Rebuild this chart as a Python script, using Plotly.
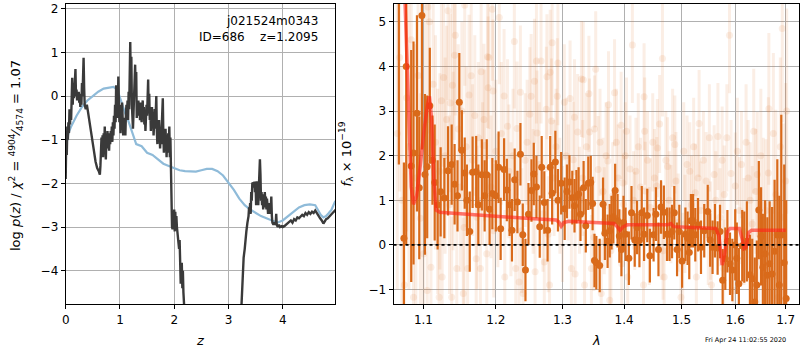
import plotly.graph_objects as go

# ---------------- left panel: redshift probability ----------------
z_pz = [0.00, 0.01, 0.02, 0.03, 0.04, 0.05, 0.06, 0.07, 0.08, 0.09, 0.10, 0.11, 0.12, 0.13, 0.14,
        0.15, 0.16, 0.17, 0.18, 0.19, 0.20, 0.21, 0.22, 0.23, 0.24, 0.25, 0.26, 0.27, 0.28, 0.29,
        0.30, 0.31, 0.32, 0.33, 0.34, 0.35, 0.37, 0.39, 0.41, 0.43, 0.46, 0.49, 0.52, 0.55, 0.58,
        0.61, 0.63, 0.64, 0.65, 0.66, 0.67, 0.68, 0.69, 0.70, 0.71, 0.72, 0.73, 0.74, 0.75, 0.76,
        0.77, 0.78, 0.79, 0.80, 0.81, 0.82, 0.83, 0.84, 0.85, 0.86, 0.87, 0.88, 0.89, 0.90, 0.91,
        0.92, 0.93, 0.94, 0.95, 0.96, 0.97, 0.98, 0.99, 1.00, 1.01, 1.02, 1.03, 1.04, 1.05, 1.06,
        1.07, 1.08, 1.09, 1.10, 1.11, 1.12, 1.13, 1.14, 1.15, 1.16, 1.17, 1.18, 1.19, 1.20, 1.21,
        1.22, 1.23, 1.24, 1.25, 1.26, 1.27, 1.28, 1.29, 1.30, 1.31, 1.32, 1.33, 1.34, 1.35, 1.36,
        1.37, 1.38, 1.39, 1.40, 1.41, 1.42, 1.43, 1.44, 1.45, 1.46, 1.47, 1.48, 1.49, 1.50, 1.51,
        1.52, 1.53, 1.54, 1.55, 1.56, 1.57, 1.58, 1.59, 1.60, 1.61, 1.62, 1.63, 1.64, 1.65, 1.66,
        1.67, 1.68, 1.69, 1.70, 1.71, 1.72, 1.73, 1.74, 1.75, 1.76, 1.77, 1.78, 1.79, 1.80, 1.81,
        1.82, 1.83, 1.84, 1.85, 1.86, 1.87, 1.88, 1.89, 1.90, 1.91, 1.92, 1.93, 1.94, 1.95, 1.96,
        1.97, 1.98, 1.99, 2.00, 2.01, 2.02, 2.03, 2.04, 2.05, 2.07, 2.09, 2.10, 2.11, 2.12, 2.13,
        2.14, 2.15, 2.16, 2.17, 2.18, 2.20, 2.22, 2.50, 3.00, 3.22, 3.24, 3.25, 3.26, 3.27, 3.28,
        3.30, 3.31, 3.33, 3.35, 3.37, 3.38, 3.39, 3.40, 3.41, 3.42, 3.43, 3.44, 3.45, 3.46, 3.47,
        3.48, 3.49, 3.50, 3.51, 3.52, 3.53, 3.54, 3.55, 3.56, 3.57, 3.58, 3.59, 3.60, 3.61, 3.62,
        3.63, 3.64, 3.65, 3.66, 3.67, 3.68, 3.69, 3.70, 3.71, 3.72, 3.73, 3.74, 3.75, 3.76, 3.77,
        3.78, 3.79, 3.80, 3.81, 3.83, 3.85, 3.87, 3.88, 3.89, 3.91, 3.93, 3.95, 3.98, 4.00, 4.03,
        4.06, 4.09, 4.12, 4.15, 4.18, 4.21, 4.24, 4.27, 4.30, 4.33, 4.36, 4.39, 4.42, 4.45, 4.48,
        4.51, 4.54, 4.57, 4.60, 4.63, 4.66, 4.69, 4.72, 4.75, 4.77, 4.80, 4.83, 4.86, 4.89, 4.92,
        4.95, 4.98]
log_pz = [-1.90, -1.00, -1.35, -0.70, -1.00, -0.60, -0.85, -0.30, -0.65, -0.35, -0.55, -0.10, 0.42, -0.20, 0.30,
          -0.05, 0.10, 0.35, 0.62, 0.00, 0.15, -0.10, 0.05, -0.05, 0.10, -0.15, -0.05, -0.25, 0.05, -0.20,
          0.30, 0.00, 0.60, 0.88, 0.20, -0.20, -0.30, -0.20, -0.35, -0.50, -0.75, -0.95, -1.25, -1.50, -1.65,
          -1.72, -1.80, -1.60, -1.40, -0.95, -1.30, -0.90, -1.40, -0.85, -1.20, -0.70, -1.15, -1.45, -0.95, -1.20,
          -0.80, -1.10, -0.90, -1.25, -0.85, -1.10, -0.80, -1.00, -0.70, -1.05, -0.60, -0.90, -0.45, -0.75, -0.20,
          -0.60, 0.25, -0.40, 0.05, -0.50, 0.45, -0.10, -0.60, -0.20, -0.85, -0.30, -0.60, -0.15, -0.70, -0.90,
          -0.50, -0.85, -0.60, -0.90, -0.40, -0.20, -0.45, -0.10, -0.55, 0.10, -0.30, 0.55, 1.24, 0.20, 0.90,
          -0.20, -0.45, -0.75, -0.40, -0.10, 0.30, 0.72, 0.10, 0.55, -0.50, -0.20, -0.40, -0.10, -0.45, -0.25,
          -0.55, -0.15, -0.45, -0.60, -0.30, -0.10, -0.50, -0.25, -0.65, -0.40, -0.80, -0.50, -0.20, -0.45, 0.10,
          0.38, -0.40, 0.05, -0.55, -0.30, -0.80, -0.50, -0.25, -0.70, -0.40, -0.90, -0.60, -0.30, -0.75, -0.45,
          0.00, -0.80, -1.10, -0.65, -0.90, -0.55, -1.00, -1.20, -0.85, -1.10, -0.70, -0.35, -0.05, -0.90, -1.30,
          -0.95, -1.20, -0.75, -1.10, -1.40, -0.90, -1.30, -0.85, -1.20, -0.70, -1.40, -0.95, -1.80, -2.50, -3.00,
          -3.05, -2.70, -3.05, -2.60, -3.10, -2.65, -3.05, -2.75, -3.00, -3.20, -3.50, -3.30, -3.90, -4.30, -4.10,
          -3.82, -4.40, -4.00, -4.50, -4.80, -5.60, -6.50, -12.0, -12.0, -6.00, -4.80, -4.50, -4.10, -3.90, -3.70,
          -3.50, -3.30, -3.10, -2.90, -2.75, -2.55, -2.65, -2.45, -2.70, -2.20, -2.40, -1.98, -2.10, -1.97, -2.05,
          -1.96, -2.20, -2.00, -2.50, -1.95, -2.40, -2.00, -2.50, -2.10, -1.90, -1.45, -1.80, -2.40, -2.20, -2.50,
          -2.25, -2.60, -2.30, -2.55, -2.20, -2.45, -2.30, -2.60, -2.35, -2.50, -2.70, -2.45, -2.60, -2.45, -2.70,
          -2.55, -2.30, -2.75, -2.90, -2.95, -2.90, -2.95, -2.70, -2.95, -3.00, -2.95, -3.00, -2.98, -3.00, -2.98,
          -2.95, -2.92, -2.90, -2.85, -2.90, -2.82, -2.85, -2.78, -2.80, -2.75, -2.72, -2.75, -2.68, -2.72, -2.66,
          -2.70, -2.65, -2.68, -2.62, -2.68, -2.75, -2.80, -2.85, -2.92, -2.88, -2.82, -2.80, -2.75, -2.72, -2.68,
          -2.65, -2.60]

z_prior = [0.00, 0.05, 0.10, 0.20, 0.30, 0.40, 0.50, 0.60, 0.70, 0.80, 0.88, 0.95, 1.00, 1.05, 1.10,
           1.15, 1.20, 1.25, 1.30, 1.40, 1.50, 1.60, 1.70, 1.80, 1.90, 2.00, 2.10, 2.20, 2.30, 2.40,
           2.50, 2.60, 2.70, 2.80, 2.90, 3.00, 3.10, 3.20, 3.30, 3.40, 3.50, 3.60, 3.70, 3.80, 3.90,
           4.00, 4.10, 4.20, 4.30, 4.40, 4.50, 4.60, 4.65, 4.70, 4.75, 4.80, 4.85, 4.90, 4.97]
log_prior = [-1.20, -0.85, -0.70, -0.45, -0.25, -0.10, 0.00, 0.10, 0.17, 0.20, 0.21, 0.15, -0.05, -0.25, -0.40,
             -0.55, -0.75, -0.95, -1.10, -1.15, -1.30, -1.35, -1.45, -1.55, -1.60, -1.65, -1.70, -1.72, -1.72, -1.73,
             -1.70, -1.67, -1.67, -1.72, -1.82, -1.98, -2.15, -2.35, -2.50, -2.60, -2.68, -2.75, -2.80, -2.85, -2.90,
             -2.85, -2.75, -2.65, -2.55, -2.50, -2.48, -2.50, -2.60, -2.72, -2.78, -2.75, -2.68, -2.60, -2.40]

z_ticks = [0, 1, 2, 3, 4]
pz_ticks = [-4, -3, -2, -1, 0, 1, 2]

# ---------------- right panel: spectrum ----------------
# main spectrum: wavelength [micron], flux, uncertainty
lam_main = [1.068, 1.0745, 1.0775, 1.084, 1.087, 1.0915, 1.0945, 1.098, 1.102, 1.105, 1.1085, 1.112, 1.115, 1.119,
            1.123, 1.128, 1.133, 1.138, 1.142, 1.146, 1.1485, 1.152, 1.156, 1.159, 1.163, 1.167, 1.172, 1.175,
            1.180, 1.184, 1.187, 1.191, 1.195, 1.200, 1.204, 1.207, 1.212, 1.216, 1.220, 1.2235, 1.2275, 1.2315,
            1.236, 1.2395, 1.2435, 1.248, 1.2525, 1.256, 1.260, 1.265, 1.268, 1.272, 1.277, 1.281, 1.284, 1.289,
            1.293, 1.298, 1.3035, 1.307, 1.311, 1.3155, 1.319, 1.322, 1.3255, 1.3285, 1.3335, 1.337, 1.341, 1.345,
            1.348, 1.351, 1.354, 1.3595, 1.365, 1.368, 1.3725, 1.376, 1.379, 1.382, 1.385, 1.389, 1.392, 1.3955,
            1.399, 1.4025, 1.408, 1.4125, 1.418, 1.422, 1.426, 1.430, 1.434, 1.4395, 1.444, 1.4505, 1.4545, 1.459,
            1.4635, 1.4685, 1.474, 1.4785, 1.483, 1.487, 1.492, 1.496, 1.501, 1.507, 1.511, 1.514, 1.517, 1.521,
            1.525, 1.530, 1.5355, 1.5415, 1.548, 1.5525, 1.557, 1.5615, 1.5665, 1.571, 1.576, 1.581, 1.585, 1.590,
            1.5945, 1.600, 1.603, 1.607, 1.6135, 1.6175, 1.6225, 1.6285, 1.633, 1.638, 1.642, 1.646, 1.6505, 1.654,
            1.6585, 1.663, 1.6675, 1.6725, 1.6775, 1.683, 1.687, 1.691, 1.697, 1.701]
flux_main = [6.3, 0.15, 4.0, 1.77, 2.06, 2.95, 1.28, 5.14, 1.58, 1.75, 3.12, 1.90, 1.40, 0.90,
             1.19, 1.05, 1.66, 1.80, 1.36, 1.10, 3.20, 2.12, 1.61, 1.00, 0.30, 1.63, 1.64, 0.90,
             1.57, 1.10, 1.57, 0.80, 1.15, 1.10, 1.74, 0.36, 1.69, 1.23, 0.90, 0.33, 1.46, 0.96,
             2.03, 0.23, -0.56, 0.69, 1.22, 1.59, 1.30, 0.41, 1.74, 0.95, 0.33, 1.74, 1.16, 1.86,
             1.00, 1.38, 0.81, 1.20, 1.41, 1.06, 0.88, 1.08, 1.14, 0.69, 1.28, 0.43, 1.38, 1.40,
             0.93, -0.35, -0.40, -0.46, 0.91, 0.26, 0.08, 0.32, 0.50, 0.63, 1.22, 0.54, 0.20, -0.10,
             0.50, 0.24, -0.30, 0.72, 0.11, 0.39, 0.10, 0.72, 0.24, 0.66, -0.24, 0.23, 0.69, -0.10,
             0.85, 0.73, 0.24, 0.24, 0.30, 0.72, -0.10, 0.30, -0.36, 0.24, 0.15, -0.17, 0.54, 0.54,
             0.23, 0.45, -0.05, 0.32, 0.75, 0.11, -0.05, 0.32, -0.07, 0.30, -0.79, -0.31, 0.08, -0.42,
             -0.56, 0.00, -0.30, -0.87, -0.02, -0.05, 0.08, -0.67, -0.76, -1.28, -0.90, 0.78, 0.19, -0.50,
             -0.20, -0.68, -0.42, -0.65, -0.14, 0.22, -0.90, 0.22, -0.40, -1.20]
err_main = [4.5, 1.7, 4.0, 2.6, 2.5, 2.2, 1.6, 3.0, 1.8, 1.6, 1.3, 1.0, 1.3, 1.0,
            1.0, 0.9, 1.0, 0.9, 0.9, 0.8, 1.1, 0.9, 0.8, 0.8, 0.9, 0.8, 0.8, 0.9,
            0.8, 0.8, 0.8, 0.8, 0.8, 0.8, 0.8, 0.7, 0.7, 0.7, 0.7, 0.7, 0.7, 0.7,
            0.7, 0.7, 0.7, 0.7, 0.7, 0.7, 0.7, 0.7, 0.7, 0.7, 0.7, 0.7, 0.7, 0.7,
            0.7, 0.7, 0.7, 0.6, 0.6, 0.6, 0.6, 0.6, 0.6, 0.6, 0.6, 0.6, 0.6, 0.6,
            0.6, 0.6, 0.6, 0.6, 0.6, 0.6, 0.6, 0.6, 0.6, 0.6, 0.6, 0.6, 0.6, 0.6,
            0.6, 0.6, 0.6, 0.6, 0.6, 0.6, 0.6, 0.6, 0.6, 0.6, 0.6, 0.6, 0.6, 0.6,
            0.6, 0.6, 0.6, 0.6, 0.6, 0.6, 0.6, 0.6, 0.6, 0.6, 0.6, 0.6, 0.6, 0.6,
            0.6, 0.6, 0.6, 0.6, 0.6, 0.6, 0.6, 0.6, 0.6, 0.6, 0.7, 0.7, 0.7, 0.7,
            0.7, 0.8, 0.8, 0.8, 0.8, 0.8, 0.9, 0.9, 0.9, 1.0, 1.0, 1.1, 1.1, 1.2,
            1.2, 1.3, 1.4, 1.5, 1.6, 1.7, 2.0, 2.7, 2.2, 2.2]

# other exposures, drawn faintly behind
lam_other = [1.066, 1.069, 1.072, 1.075, 1.078, 1.081, 1.084, 1.087, 1.090, 1.093, 1.096, 1.100, 1.102, 1.105,
             1.106, 1.108, 1.110, 1.113, 1.116, 1.119, 1.121, 1.122, 1.124, 1.125, 1.127, 1.129, 1.131, 1.133,
             1.135, 1.136, 1.138, 1.139, 1.140, 1.142, 1.143, 1.145, 1.147, 1.150, 1.152, 1.154, 1.155, 1.156,
             1.158, 1.160, 1.162, 1.165, 1.167, 1.170, 1.172, 1.173, 1.175, 1.178, 1.179, 1.181, 1.183, 1.184,
             1.187, 1.188, 1.189, 1.190, 1.193, 1.195, 1.196, 1.197, 1.200, 1.203, 1.205, 1.208, 1.212, 1.213,
             1.217, 1.219, 1.222, 1.225, 1.227, 1.229, 1.231, 1.234, 1.236, 1.238, 1.240, 1.243, 1.246, 1.250,
             1.252, 1.255, 1.257, 1.258, 1.260, 1.261, 1.264, 1.267, 1.270, 1.272, 1.275, 1.276, 1.278, 1.280,
             1.281, 1.283, 1.284, 1.287, 1.290, 1.292, 1.293, 1.296, 1.300, 1.303, 1.306, 1.309, 1.312, 1.314,
             1.317, 1.319, 1.320, 1.324, 1.327, 1.330, 1.332, 1.333, 1.335, 1.338, 1.342, 1.343, 1.346, 1.350,
             1.351, 1.353, 1.357, 1.360, 1.362, 1.365, 1.367, 1.370, 1.373, 1.374, 1.376, 1.378, 1.381, 1.384,
             1.387, 1.390, 1.395, 1.396, 1.398, 1.399, 1.402, 1.404, 1.406, 1.410, 1.414, 1.416, 1.418, 1.420,
             1.424, 1.428, 1.433, 1.434, 1.435, 1.436, 1.440, 1.443, 1.445, 1.449, 1.452, 1.456, 1.457, 1.461,
             1.464, 1.466, 1.467, 1.469, 1.472, 1.475, 1.478, 1.481, 1.484, 1.488, 1.490, 1.494, 1.499, 1.502,
             1.504, 1.506, 1.510, 1.515, 1.518, 1.522, 1.525, 1.527, 1.530, 1.532, 1.535, 1.540, 1.545, 1.549,
             1.551, 1.553, 1.555, 1.560, 1.563, 1.567, 1.571, 1.575, 1.578, 1.579, 1.584, 1.589, 1.592, 1.597,
             1.600, 1.604, 1.608, 1.612, 1.617, 1.621, 1.625, 1.629, 1.633, 1.634, 1.636, 1.640, 1.643, 1.646,
             1.650, 1.655, 1.660, 1.665, 1.666, 1.671, 1.675, 1.680, 1.685, 1.689, 1.693, 1.695, 1.700, 1.702]
flux_other = [2.5, 4.2, 1.0, -0.9, 3.3, 2.2, 4.6, -1.17, 1.5, 3.8, 0.6, -0.2, 2.9, -1.02,
              5.33, 5.0, -0.5, 3.6, 2.3, 1.2, -1.17, 1.65, 3.23, -0.72, 3.75, 2.0, 2.81, 5.25,
              0.9, 3.18, -1.17, 3.58, 1.88, 4.25, 4.7, -0.53, 2.6, 1.3, 3.0, -1.09, 0.39, 5.37,
              2.2, -0.53, 3.36, 3.79, 1.9, 2.9, -0.31, 0.62, 2.4, -0.53, 3.88, 1.6, 2.81, 2.23,
              -0.2, 4.22, 3.52, 4.2, 1.3, 5.28, 3.45, 0.32, 2.1, 1.0, 5.1, 2.5, 3.34, -0.72,
              2.66, 1.65, 0.8, 2.0, 4.56, -0.53, 2.61, -0.83, 3.42, 0.32, -1.09, 1.9, 2.3, 2.93,
              3.33, 1.2, 3.67, -0.6, 4.12, 2.51, 1.8, 4.12, 0.7, -0.38, 3.04, 3.77, 0.24, -0.9,
              3.87, 2.78, 4.53, 1.5, 2.2, 3.33, 4.08, 1.1, 0.47, 3.2, 2.0, 1.4, 3.28, -0.53,
              1.91, 2.86, -0.65, 2.53, 1.0, 3.72, 1.5, 3.70, -0.9, 2.2, 3.39, 2.53, -0.53, 0.17,
              2.6, 3.94, 1.69, 2.3, -1.09, 1.2, 0.54, 2.0, 1.88, 3.14, -1.24, -0.13, 1.1, 3.41,
              2.3, 1.5, 2.68, -0.42, 1.39, 0.91, 2.0, 2.55, -0.72, 1.7, 4.48, 1.0, 0.54, 1.65,
              2.2, 1.3, -0.9, 3.32, 2.55, 1.21, 1.9, 0.2, 0.84, 2.3, 1.5, 1.32, 2.17, 2.71,
              0.32, 4.18, -0.13, -0.72, 1.9, 1.76, 1.0, 0.69, 2.4, 2.25, 1.43, 0.5, -1.17, -0.38,
              2.1, 0.47, 1.8, 1.65, 0.9, 2.2, 1.17, -0.72, 1.5, 2.72, 0.77, 1.9, 1.43, 0.2,
              2.4, 0.32, -0.9, 1.58, 1.0, 2.43, 0.62, 1.9, -0.53, 1.13, 2.4, 4.7, 1.6, -1.02,
              1.32, 2.1, 0.77, 1.8, 0.3, 2.3, 1.5, 1.0, 0.47, -0.72, 2.55, 1.2, 1.58, -0.38,
              2.0, 0.9, 0.77, 1.61, 3.05, -0.72, 2.5, 1.13, -1.17, 2.2, 4.85, 0.62, 1.43, 3.0]
err_other = [3.5, 3.0, 3.0, 2.5, 3.0, 3.2, 2.8, 2.4, 3.0, 2.6, 2.8, 2.5, 2.6, 2.0,
             2.6, 2.5, 2.2, 2.3, 2.4, 2.3, 2.0, 2.2, 2.2, 2.0, 2.0, 2.2, 2.1, 2.0,
             2.0, 2.0, 1.8, 1.9, 2.0, 1.9, 1.8, 1.8, 1.9, 1.9, 2.0, 1.7, 1.8, 1.8,
             1.8, 1.7, 1.8, 1.8, 1.7, 1.8, 1.6, 1.6, 1.7, 1.6, 1.7, 1.6, 1.7, 1.7,
             1.6, 1.6, 1.6, 1.6, 1.6, 1.6, 1.6, 1.5, 1.6, 1.5, 1.5, 1.6, 1.5, 1.5,
             1.5, 1.5, 1.5, 1.5, 1.5, 1.4, 1.5, 1.4, 1.5, 1.4, 1.4, 1.5, 1.4, 1.5,
             1.4, 1.4, 1.4, 1.4, 1.4, 1.4, 1.4, 1.4, 1.3, 1.3, 1.4, 1.4, 1.3, 1.3,
             1.4, 1.4, 1.4, 1.3, 1.3, 1.3, 1.4, 1.3, 1.3, 1.3, 1.3, 1.3, 1.3, 1.3,
             1.3, 1.3, 1.3, 1.3, 1.2, 1.3, 1.3, 1.3, 1.2, 1.2, 1.3, 1.2, 1.2, 1.2,
             1.2, 1.3, 1.2, 1.2, 1.2, 1.2, 1.2, 1.2, 1.2, 1.2, 1.1, 1.2, 1.2, 1.2,
             1.2, 1.2, 1.2, 1.2, 1.2, 1.1, 1.2, 1.2, 1.2, 1.2, 1.3, 1.1, 1.1, 1.2,
             1.2, 1.1, 1.1, 1.2, 1.2, 1.1, 1.1, 1.1, 1.1, 1.1, 1.1, 1.1, 1.1, 1.1,
             1.1, 1.3, 1.1, 1.1, 1.1, 1.1, 1.1, 1.1, 1.1, 1.1, 1.1, 1.1, 1.1, 1.1,
             1.1, 1.1, 1.1, 1.1, 1.1, 1.1, 1.1, 1.1, 1.1, 1.2, 1.1, 1.1, 1.1, 1.1,
             1.2, 1.1, 1.1, 1.1, 1.1, 1.2, 1.1, 1.2, 1.1, 1.1, 1.2, 1.3, 1.2, 1.1,
             1.2, 1.2, 1.2, 1.2, 1.2, 1.3, 1.3, 1.3, 1.3, 1.3, 1.4, 1.4, 1.4, 1.4,
             1.5, 1.5, 1.6, 1.7, 1.7, 1.7, 1.8, 1.9, 1.9, 2.0, 2.1, 2.1, 2.2, 2.3]

# best-fit model spectrum
lam_model = [1.072, 1.076, 1.080, 1.084, 1.087, 1.091, 1.096, 1.101, 1.106, 1.108, 1.111, 1.114, 1.117, 1.122,
             1.150, 1.200, 1.250, 1.290, 1.294, 1.298, 1.302, 1.310, 1.350, 1.383, 1.389, 1.393, 1.398, 1.405,
             1.450, 1.475, 1.481, 1.486, 1.520, 1.563, 1.569, 1.575, 1.580, 1.585, 1.590, 1.608, 1.613, 1.617,
             1.621, 1.626, 1.632, 1.700]
flux_model = [7.5, 5.5, 3.0, 1.3, 0.91, 1.1, 1.8, 2.6, 3.2, 3.33, 2.8, 1.4, 0.78, 0.73,
              0.70, 0.64, 0.59, 0.56, 0.52, 0.42, 0.50, 0.53, 0.51, 0.48, 0.40, 0.33, 0.40, 0.45,
              0.45, 0.45, 0.48, 0.41, 0.39, 0.37, 0.20, -0.45, -0.20, 0.30, 0.37, 0.37, 0.15, -0.08,
              -0.05, 0.28, 0.33, 0.33]

lam_ticks = [1.1, 1.2, 1.3, 1.4, 1.5, 1.6, 1.7]
flux_ticks = [-1, 0, 1, 2, 3, 4, 5]

W, H = 800, 350
FONT = "DejaVu Sans"
GRID = "#b0b0b0"
ORANGE = "rgb(217,106,26)"
ORANGE_FAINT = "rgba(225,115,40,0.12)"


def fmt(v):
    s = f"{v:g}"
    return s.replace("-", "\u2212")


def px2paper(x, y):
    return x / W, 1 - y / H


fig = go.Figure()

# p(z) curves
fig.add_trace(go.Scatter(x=z_prior, y=log_prior, mode="lines", xaxis="x", yaxis="y",
                         line=dict(color="#8fbbd9", width=2.2), showlegend=False))
fig.add_trace(go.Scatter(x=z_pz, y=log_pz, mode="lines", xaxis="x", yaxis="y",
                         line=dict(color="#3a3a3a", width=2.4), showlegend=False))

# spectra
fig.add_trace(go.Scatter(x=lam_other, y=flux_other, mode="markers", xaxis="x2", yaxis="y2",
                         marker=dict(color=ORANGE_FAINT, size=7, line=dict(width=0)),
                         error_y=dict(type="data", array=err_other, color=ORANGE_FAINT,
                                      thickness=3, width=0),
                         showlegend=False))
fig.add_trace(go.Scatter(x=lam_main, y=flux_main, mode="markers", xaxis="x2", yaxis="y2",
                         marker=dict(color=ORANGE, size=7, line=dict(width=0)),
                         error_y=dict(type="data", array=err_main, color=ORANGE,
                                      thickness=2.2, width=0),
                         showlegend=False))
fig.add_trace(go.Scatter(x=lam_model, y=flux_model, mode="lines", xaxis="x2", yaxis="y2",
                         line=dict(color="rgba(255,35,25,0.62)", width=3.5), showlegend=False))

axis_common = dict(showgrid=True, gridcolor=GRID, gridwidth=1, showline=True, linecolor="black",
                   linewidth=1, mirror=True, ticks="outside", ticklen=4, tickcolor="black",
                   zeroline=False, tickfont=dict(family=FONT, size=12, color="black"))

fig.update_layout(
    width=W, height=H,
    margin=dict(l=0, r=0, t=0, b=0),
    paper_bgcolor="white", plot_bgcolor="white",
    xaxis=dict(domain=[62 / W, 333 / W], range=[0, 4.97], tickvals=z_ticks,
               ticktext=[fmt(v) for v in z_ticks], anchor="y", **axis_common),
    yaxis=dict(domain=[1 - 304 / H, 1 - 2 / H], range=[-4.77, 2.11], tickvals=pz_ticks,
               ticktext=[fmt(v) for v in pz_ticks], anchor="x", **axis_common),
    xaxis2=dict(domain=[391.5 / W, 799 / W], type="log", range=[0.0258, 0.2374], tickvals=lam_ticks,
                ticktext=[fmt(v) for v in lam_ticks], anchor="y2", **axis_common),
    yaxis2=dict(domain=[1 - 304 / H, 1 - 2 / H], range=[-1.33, 5.4], tickvals=flux_ticks,
                ticktext=[fmt(v) for v in flux_ticks], anchor="x2", **axis_common),
)

# zero level in the spectrum panel
fig.add_shape(type="line", xref="x2 domain", yref="y2", x0=0, x1=1, y0=0, y1=0,
              line=dict(color="black", width=1.8, dash="dot"))

annots = [
    dict(px=318, py=10, text="j021524m0343<br>ID=686\u00a0\u00a0\u00a0\u00a0z=1.2095", size=12,
         xanchor="right", yanchor="top", align="right"),
    dict(px=12, py=154, text="log <i>p</i>(<i>z</i>) / <i>χ</i><sup>2</sup> = "
                              "<sup>4904</sup>⁄<sub>4574</sub> = 1.07",
         size=13, angle=-90),
    dict(px=344, py=153, text="<i>f</i><sub>λ</sub> × 10<sup>−19</sup>", size=13, angle=-90),
    dict(px=197, py=340, text="<i>z</i>", size=13),
    dict(px=595, py=340, text="<i>λ</i>", size=13),
    dict(px=745, py=340, text="Fri Apr 24 11:02:55 2020", size=6.5),
]
for a in annots:
    x, y = px2paper(a["px"], a["py"])
    fig.add_annotation(x=x, y=y, xref="paper", yref="paper", text=a["text"], showarrow=False,
                       textangle=a.get("angle", 0), xanchor=a.get("xanchor", "center"),
                       yanchor=a.get("yanchor", "middle"), align=a.get("align", "center"),
                       font=dict(family=FONT, size=a["size"], color="black"))

fig.write_html("out.html")
